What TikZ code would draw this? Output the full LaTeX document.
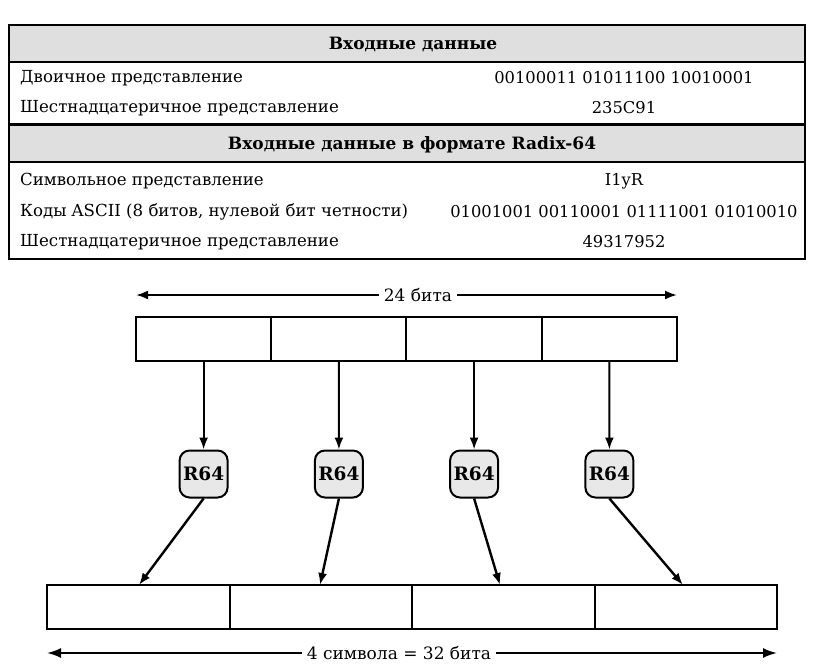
\documentclass[tikz,border=0pt]{standalone}
\usepackage{fontspec}
\setmainfont{DejaVu Serif}
\usetikzlibrary{arrows.meta, positioning}

\begin{document}
\begin{tikzpicture}[x=1pt, y=-1pt, >={Latex[length=12pt,width=9pt]},
    cell/.style={draw, line width=2pt, minimum height=44pt, inner sep=0pt, outer sep=0pt},
    rbox/.style={draw, line width=2pt, rounded corners=10pt, fill=gray!18,
        minimum width=48pt, minimum height=47pt, inner sep=0pt,
        font=\bfseries\fontsize{18.5}{20}\selectfont},
    rowtxt/.style={anchor=west, inner sep=0pt, font=\fontsize{16.6}{20}\selectfont},
    valtxt/.style={inner sep=0pt, font=\fontsize{16.3}{20}\selectfont},
    headtxt/.style={inner sep=0pt, font=\bfseries\fontsize{17}{20}\selectfont},
    lbltxt/.style={fill=white, inner sep=5pt, font=\fontsize{17}{20}\selectfont}]
    \useasboundingbox (0,0) rectangle (819,667);

    % Table
    \fill[gray!25] (9,25) rectangle (805,62);
    \fill[gray!25] (9,125) rectangle (805,162);
    \draw[line width=2.5pt] (9,25) rectangle (805,259);
    \draw[line width=2.5pt] (9,62) -- (805,62);
    \draw[line width=3pt] (9,124.5) -- (805,124.5);
    \draw[line width=2.5pt] (9,162) -- (805,162);

    \node[headtxt] (h1) at (413,44) {Входные данные};
    \node[rowtxt] (r1) at (20,78) {Двоичное представление};
    \node[valtxt] (v1) at (624,78) {00100011 01011100 10010001};
    \node[rowtxt] (r2) at (20,108) {Шестнадцатеричное представление};
    \node[valtxt] (v2) at (624,108) {235C91};

    \node[headtxt] (h2) at (412,145) {Входные данные в формате Radix-64};
    \node[rowtxt] (r3) at (20,181) {Символьное представление};
    \node[valtxt] (v3) at (624,181) {I1yR};
    \node[rowtxt] (r4) at (20,212) {Коды ASCII (8 битов, нулевой бит четности)};
    \node[valtxt] (v4) at (624,212) {01001001 00110001 01111001 01010010};
    \node[rowtxt] (r5) at (20,242) {Шестнадцатеричное представление};
    \node[valtxt] (v5) at (624,242) {49317952};

    % 24 bits
    \node[cell, minimum width=135.25pt] (t1) at (203.6,339) {};
    \node[cell, minimum width=135.25pt, right=0pt of t1] (t2) {};
    \node[cell, minimum width=135.25pt, right=0pt of t2] (t3) {};
    \node[cell, minimum width=135.25pt, right=0pt of t3] (t4) {};
    \coordinate (tl) at (136,295);
    \coordinate (tr) at (677,295);
    \draw[<->, line width=2pt] (tl) -- (tr);
    \node[lbltxt] (n24) at (418,295) {24 бита};

    % R64 converters
    \node[rbox] (c1) at (203.6,474) {R64};
    \node[rbox] (c2) at (338.9,474) {R64};
    \node[rbox] (c3) at (474.1,474) {R64};
    \node[rbox] (c4) at (609.4,474) {R64};
    \draw[->, line width=2pt] (t1.south) -- (c1.north);
    \draw[->, line width=2pt] (t2.south) -- (c2.north);
    \draw[->, line width=2pt] (t3.south) -- (c3.north);
    \draw[->, line width=2pt] (t4.south) -- (c4.north);

    % 4 characters
    \node[cell, minimum width=182.5pt] (b1) at (138.25,607) {};
    \node[cell, minimum width=182.5pt, right=0pt of b1] (b2) {};
    \node[cell, minimum width=182.5pt, right=0pt of b2] (b3) {};
    \node[cell, minimum width=182.5pt, right=0pt of b3] (b4) {};
    \coordinate (bl) at (47,653);
    \coordinate (br) at (777,653);
    \draw[<->, line width=2pt, >={Latex[length=14pt,width=10pt]}] (bl) -- (br);
    \node[lbltxt] (n32) at (399,653) {4 символа = 32 бита};

    \draw[->, line width=2.4pt] (c1.south) -- (b1.north east -| 139,0);
    \draw[->, line width=2.4pt] (c2.south) -- (b2.north west -| 320,0);
    \draw[->, line width=2.4pt] (c3.south) -- (b3.north west -| 500,0);
    \draw[->, line width=2.4pt] (c4.south) -- (b4.north west -| 683,0);
\end{tikzpicture}
\end{document}
